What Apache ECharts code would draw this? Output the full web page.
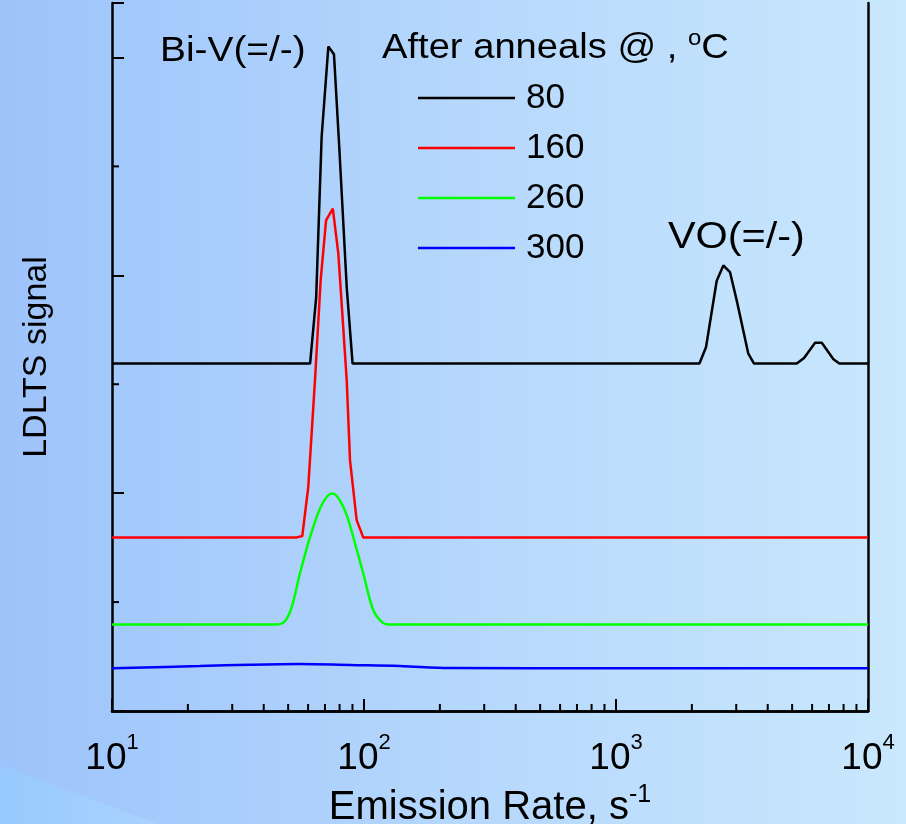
<!DOCTYPE html>
<html>
<head>
<meta charset="utf-8">
<script src="https://cdn.jsdelivr.net/npm/echarts@6/dist/echarts.min.js"></script>
<style>
html,body{margin:0;padding:0;}
#chart{width:906px;height:824px;}
</style>
</head>
<body>
<div id="chart"></div>
<script>
// ---- data (x: emission rate, s^-1 ; y: LDLTS signal, arbitrary offset units) ----
const seriesNames = ['80', '160', '260', '300'];
const colors = ['#000000', '#ff0000', '#00ff00', '#0000ff'];

const x80 = [10, 61.1, 64.6, 67.9, 72.2, 76.0, 79.8, 85.4, 90.1, 2143, 2276, 2510, 2667, 2833, 3013, 3350, 3530, 5216, 5576, 6166, 6556, 7291, 7696, 10000];
const y80 = [3.19, 3.19, 3.80, 5.27, 6.10, 6.03, 5.17, 3.89, 3.19, 3.19, 3.34, 3.95, 4.09, 4.03, 3.77, 3.28, 3.19, 3.19, 3.24, 3.38, 3.38, 3.23, 3.19, 3.19];

const x160 = [10, 54.1, 56.9, 60.1, 63.9, 67.3, 70.7, 75.2, 79.1, 85.4, 88.0, 93.5, 99.3, 10000];
const y160 = [1.594, 1.594, 1.606, 2.058, 3.037, 3.954, 4.505, 4.612, 4.199, 3.037, 2.303, 1.752, 1.594, 1.594];

const x260 = [10, 45.3, 48.6, 51.7, 55.7, 61.1, 66.9, 71.5, 75.2, 79.8, 85.4, 92.1, 99.3, 108.8, 117.5, 124.8, 10000];
const y260 = [0.795, 0.795, 0.826, 0.957, 1.263, 1.599, 1.860, 1.972, 1.997, 1.942, 1.798, 1.539, 1.263, 0.927, 0.819, 0.795, 0.795];

const x300 = [10, 22.3, 35.3, 55.7, 88.0, 139, 219, 1000, 10000];
const y300 = [0.392, 0.413, 0.425, 0.431, 0.422, 0.413, 0.394, 0.392, 0.392];

const xMinorTicks = [20, 30, 40, 50, 60, 70, 80, 90, 200, 300, 400, 500, 600, 700, 800, 900, 2000, 3000, 4000, 5000, 6000, 7000, 8000, 9000];
const yMinorTicks = [1, 3, 5];

const legendTitle = '{a|After anneals @ , }{s|o}{a|C}';
const peakLabels = ['Bi-V(=/-)', 'VO(=/-)'];

// ---- build ----
const allX = [x80, x160, x260, x300];
const allY = [y80, y160, y260, y300];
const FONT = '"Liberation Sans", Arial, sans-serif';

const lineSeries = seriesNames.map((n, i) => ({
  name: n,
  type: 'line',
  data: allX[i].map((x, k) => [x, allY[i][k]]),
  symbol: 'none',
  smooth: i >= 2 ? 0.35 : false,
  lineStyle: {color: colors[i], width: 2.5},
  itemStyle: {color: colors[i]},
  z: 10 - i
}));

const chart = echarts.init(document.getElementById('chart'));

const supLabel = v => {
  const e = Math.round(Math.log10(v));
  return '{b|10}{s|' + e + '}';
};

chart.setOption({
  animation: false,
  backgroundColor: {
    type: 'linear', x: 0, y: 0, x2: 1, y2: 0,
    colorStops: [
      {offset: 0, color: '#9dc3fb'},
      {offset: 0.5, color: '#b5d7fc'},
      {offset: 1, color: '#c9e8fd'}
    ]
  },
  textStyle: {fontFamily: FONT},
  grid: {left: 112, right: 38, top: 3, bottom: 113, containLabel: false, outerBoundsMode: 'none'},
  legend: {
    orient: 'vertical',
    left: 413,
    top: 73,
    itemWidth: 97,
    itemHeight: 14,
    itemGap: 10,
    icon: 'path://M0,0 L97,0 L97,2.6 L0,2.6 Z',
    data: seriesNames.map((n, i) => ({name: n, itemStyle: {color: colors[i]}})),
    textStyle: {fontSize: 35, color: '#000', lineHeight: 40, fontFamily: FONT, padding: [0, 0, 0, 6]}
  },
  xAxis: [{
    type: 'log',
    logBase: 10,
    min: 10,
    max: 10000,
    name: '{a|Emission Rate, s}{s|-1}',
    nameLocation: 'middle',
    nameGap: 57,
    nameTextStyle: {
      rich: {
        a: {fontSize: 40, color: '#000', fontFamily: FONT, lineHeight: 52},
        s: {fontSize: 25, color: '#000', fontFamily: FONT, verticalAlign: 'top', lineHeight: 25}
      }
    },
    axisLine: {show: true, onZero: false, lineStyle: {color: '#000', width: 2.5}},
    axisTick: {show: true, inside: true, length: 12, lineStyle: {color: '#000', width: 2}},
    minorTick: {show: false},
    splitLine: {show: false},
    axisLabel: {
      margin: 21,
      formatter: supLabel,
      rich: {
        b: {fontSize: 37, color: '#000', fontFamily: FONT, lineHeight: 54},
        s: {fontSize: 22, color: '#000', fontFamily: FONT, verticalAlign: 'top', lineHeight: 22}
      }
    }
  }, {
    type: 'value', position: 'top', min: 0, max: 1,
    axisLine: {show: true, lineStyle: {color: '#000', width: 2.5}},
    axisTick: {show: false}, axisLabel: {show: false}, splitLine: {show: false}
  }],
  yAxis: [{
    type: 'value',
    min: 0,
    max: 6.5,
    interval: 2,
    name: 'LDLTS signal',
    nameLocation: 'middle',
    nameGap: 58,
    nameTextStyle: {fontSize: 34, color: '#000', fontFamily: FONT},
    axisLine: {show: true, lineStyle: {color: '#000', width: 2.5}},
    axisTick: {show: true, inside: true, length: 12, lineStyle: {color: '#000', width: 2}},
    axisLabel: {show: false},
    splitLine: {show: false}
  }, {
    type: 'value', position: 'right', min: 0, max: 1,
    axisLine: {show: true, lineStyle: {color: '#000', width: 2.5}},
    axisTick: {show: false}, axisLabel: {show: false}, splitLine: {show: false}
  }],
  graphic: [{
    type: 'polygon',
    silent: true,
    z: -10,
    shape: {points: [[0, 765], [158, 824], [0, 824]]},
    style: {
      fill: {
        type: 'linear', x: 0, y: 0, x2: 1, y2: 0,
        colorStops: [{offset: 0, color: '#97c9fe'}, {offset: 1, color: '#a9d3fe'}]
      }
    }
  }, {
    type: 'text',
    left: 382, top: 28,
    scaleX: 1.09,
    style: {
      text: legendTitle,
      rich: {
        a: {fontSize: 35, fill: '#000', fontFamily: FONT, lineHeight: 40},
        s: {fontSize: 22, fill: '#000', fontFamily: FONT, verticalAlign: 'top', lineHeight: 22}
      }
    }
  }, {
    type: 'text',
    left: 160, top: 31,
    scaleX: 1.11,
    style: {text: peakLabels[0], fontSize: 35, fill: '#000', fontFamily: FONT, lineHeight: 40}
  }, {
    type: 'text',
    left: 668, top: 218,
    scaleX: 1.15,
    style: {text: peakLabels[1], fontSize: 36, fill: '#000', fontFamily: FONT, lineHeight: 40}
  }],
  series: lineSeries.concat([
    {
      type: 'custom',
      name: 'xminor',
      xAxisIndex: 0, yAxisIndex: 0,
      data: xMinorTicks.map(v => [v, 0]),
      clip: false,
      silent: true,
      renderItem: (params, api) => {
        const p = api.coord([api.value(0), api.value(1)]);
        return {type: 'line', shape: {x1: p[0], y1: p[1], x2: p[0], y2: p[1] - 7}, style: {stroke: '#000', lineWidth: 2}};
      }
    },
    {
      type: 'custom',
      name: 'yminor',
      xAxisIndex: 0, yAxisIndex: 0,
      data: yMinorTicks.map(v => [10, v]),
      clip: false,
      silent: true,
      renderItem: (params, api) => {
        const p = api.coord([api.value(0), api.value(1)]);
        return {type: 'line', shape: {x1: p[0], y1: p[1], x2: p[0] + 7, y2: p[1]}, style: {stroke: '#000', lineWidth: 2}};
      }
    }
  ])
});
</script>
</body>
</html>
